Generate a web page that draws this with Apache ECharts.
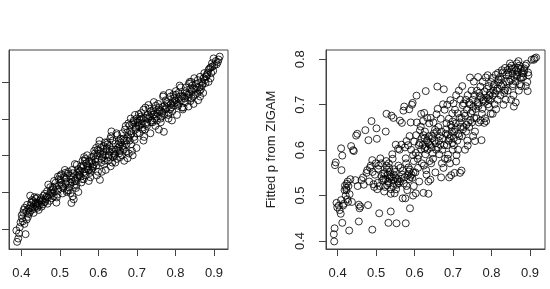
<!DOCTYPE html>
<html>
<head>
<meta charset="utf-8">
<script src="https://cdn.jsdelivr.net/npm/echarts@6/dist/echarts.min.js"></script>
<style>
  html, body { margin: 0; padding: 0; background: #fff; }
  #chart { width: 550px; height: 289px; }
</style>
</head>
<body>
<div id="chart"></div>
<script>
// tick positions
var xTicks = [0.4, 0.5, 0.6, 0.7, 0.8, 0.9];
var leftYTicks = [0.4, 0.5, 0.6, 0.7, 0.8];
var rightYTicks = [0.4, 0.5, 0.6, 0.7, 0.8];

// left panel: [true p, fitted p] (y labels are cut off in the reference)
var leftPoints = [
	[0.389,0.365],[0.392,0.374],[0.387,0.396],[0.396,0.405],[0.394,0.388],[0.398,0.418],
	[0.411,0.386],[0.404,0.421],[0.406,0.452],[0.417,0.433],[0.402,0.429],[0.413,0.447],[0.409,0.458],[0.415,0.466],[0.419,0.441],[0.401,0.438],[0.408,0.414],[0.414,0.426],[0.418,0.455],[0.405,0.444],
	[0.423,0.491],[0.436,0.471],[0.421,0.456],[0.428,0.479],[0.439,0.463],[0.431,0.476],[0.425,0.451],[0.437,0.468],[0.434,0.487],[0.422,0.446],[0.429,0.459],[0.432,0.444],[0.426,0.472],[0.438,0.482],[0.424,0.465],[0.433,0.455],
	[0.447,0.476],[0.441,0.486],[0.453,0.461],[0.444,0.471],[0.458,0.491],[0.450,0.479],[0.456,0.467],[0.442,0.458],[0.459,0.473],[0.445,0.452],[0.452,0.484],[0.448,0.466],[0.455,0.478],[0.443,0.463],
	[0.465,0.488],[0.474,0.477],[0.461,0.496],[0.470,0.521],[0.478,0.506],[0.463,0.481],[0.476,0.499],[0.468,0.469],[0.472,0.492],[0.479,0.484],[0.467,0.503],[0.462,0.474],[0.475,0.514],[0.469,0.486],
	[0.487,0.503],[0.482,0.513],[0.494,0.494],[0.489,0.526],[0.491,0.472],[0.483,0.508],[0.495,0.543],[0.498,0.519],[0.485,0.531],[0.492,0.486],[0.481,0.497],[0.497,0.536],[0.488,0.516],[0.484,0.489],[0.496,0.507],
	[0.508,0.516],[0.502,0.534],[0.515,0.524],[0.504,0.549],[0.519,0.505],[0.511,0.541],[0.506,0.521],[0.517,0.529],[0.513,0.561],[0.501,0.545],[0.518,0.501],[0.509,0.511],[0.514,0.553],[0.503,0.526],[0.516,0.538],[0.507,0.497],
	[0.527,0.526],[0.521,0.551],[0.535,0.541],[0.524,0.513],[0.538,0.531],[0.530,0.471],[0.533,0.489],[0.536,0.481],[0.522,0.556],[0.529,0.536],[0.539,0.577],[0.532,0.561],[0.526,0.546],[0.537,0.519],[0.523,0.506],[0.531,0.528],[0.534,0.552],[0.528,0.498],
	[0.546,0.541],[0.553,0.559],[0.541,0.531],[0.557,0.566],[0.549,0.548],[0.544,0.575],[0.558,0.536],[0.551,0.556],[0.543,0.521],[0.555,0.571],[0.548,0.501],[0.542,0.512],[0.559,0.586],[0.552,0.547],[0.547,0.563],[0.556,0.527],[0.545,0.553],[0.554,0.543],
	[0.567,0.546],[0.574,0.561],[0.561,0.573],[0.578,0.553],[0.565,0.586],[0.572,0.566],[0.563,0.596],[0.579,0.541],[0.569,0.579],[0.576,0.561],[0.562,0.536],[0.571,0.601],[0.575,0.531],[0.566,0.591],[0.573,0.571],[0.564,0.556],[0.577,0.584],[0.568,0.563],
	[0.586,0.571],[0.592,0.591],[0.581,0.561],[0.597,0.601],[0.584,0.581],[0.589,0.613],[0.599,0.556],[0.583,0.596],[0.594,0.621],[0.588,0.576],[0.596,0.546],[0.582,0.586],[0.591,0.606],[0.598,0.616],[0.585,0.566],[0.593,0.583],[0.587,0.598],[0.595,0.573],
	[0.608,0.591],[0.613,0.611],[0.604,0.534],[0.618,0.601],[0.602,0.631],[0.615,0.576],[0.606,0.621],[0.619,0.561],[0.611,0.603],[0.603,0.641],[0.616,0.586],[0.609,0.556],[0.601,0.613],[0.614,0.626],[0.607,0.581],[0.612,0.596],[0.617,0.636],[0.605,0.606],
	[0.627,0.601],[0.621,0.616],[0.636,0.581],[0.624,0.631],[0.631,0.646],[0.638,0.596],[0.622,0.621],[0.634,0.666],[0.629,0.611],[0.625,0.586],[0.637,0.641],[0.632,0.571],[0.623,0.636],[0.639,0.606],[0.628,0.626],[0.635,0.616],[0.626,0.596],[0.633,0.653],
	[0.646,0.616],[0.652,0.631],[0.641,0.601],[0.658,0.646],[0.644,0.581],[0.655,0.626],[0.649,0.656],[0.642,0.611],[0.657,0.596],[0.653,0.641],[0.647,0.661],[0.651,0.621],[0.659,0.636],[0.643,0.603],[0.648,0.591],[0.656,0.613],[0.645,0.633],[0.654,0.606],
	[0.666,0.616],[0.673,0.631],[0.661,0.601],[0.677,0.651],[0.664,0.621],[0.671,0.681],[0.668,0.641],[0.679,0.606],[0.662,0.661],[0.678,0.688],[0.676,0.593],[0.669,0.671],[0.674,0.641],[0.663,0.626],[0.672,0.611],[0.667,0.586],[0.675,0.663],[0.665,0.646],
	[0.686,0.661],[0.691,0.691],[0.681,0.641],[0.697,0.676],[0.684,0.701],[0.693,0.651],[0.688,0.686],[0.699,0.621],[0.682,0.666],[0.695,0.711],[0.689,0.601],[0.698,0.681],[0.685,0.631],[0.692,0.696],[0.683,0.656],[0.696,0.671],[0.687,0.613],[0.694,0.643],[0.681,0.683],[0.699,0.701],
	[0.706,0.681],[0.712,0.701],[0.701,0.661],[0.708,0.697],[0.717,0.641],[0.703,0.691],[0.715,0.671],[0.709,0.706],[0.717,0.725],[0.704,0.681],[0.711,0.716],[0.719,0.651],[0.702,0.691],[0.714,0.676],[0.707,0.661],[0.713,0.686],[0.718,0.703],[0.705,0.713],
	[0.727,0.691],[0.733,0.706],[0.721,0.671],[0.738,0.716],[0.730,0.738],[0.724,0.686],[0.736,0.721],[0.729,0.701],[0.735,0.661],[0.722,0.731],[0.739,0.696],[0.726,0.681],[0.732,0.728],[0.728,0.711],[0.737,0.691],[0.723,0.703],
	[0.746,0.701],[0.753,0.716],[0.741,0.691],[0.758,0.731],[0.744,0.746],[0.751,0.706],[0.759,0.721],[0.748,0.681],[0.755,0.741],[0.742,0.711],[0.757,0.671],[0.749,0.736],[0.745,0.713],[0.752,0.696],[0.756,0.726],[0.743,0.723],
	[0.766,0.716],[0.772,0.736],[0.761,0.701],[0.778,0.746],[0.769,0.765],[0.770,0.665],[0.764,0.721],[0.775,0.751],[0.762,0.691],[0.777,0.731],[0.768,0.761],[0.774,0.726],[0.763,0.706],[0.779,0.741],[0.771,0.711],[0.767,0.733],
	[0.786,0.726],[0.793,0.746],[0.781,0.711],[0.797,0.756],[0.784,0.771],[0.789,0.731],[0.799,0.751],[0.782,0.701],[0.795,0.766],[0.788,0.741],[0.791,0.696],[0.783,0.716],[0.796,0.736],[0.787,0.761],[0.792,0.721],[0.798,0.743],
	[0.806,0.741],[0.804,0.711],[0.812,0.761],[0.801,0.776],[0.817,0.731],[0.809,0.756],[0.814,0.786],[0.803,0.746],[0.819,0.726],[0.808,0.771],[0.815,0.751],[0.811,0.791],[0.802,0.766],[0.818,0.763],[0.807,0.736],
	[0.826,0.746],[0.832,0.766],[0.821,0.731],[0.838,0.781],[0.824,0.756],[0.835,0.796],[0.834,0.734],[0.829,0.771],[0.837,0.801],[0.822,0.761],[0.839,0.749],[0.827,0.786],[0.833,0.758],[0.825,0.776],[0.836,0.768],
	[0.846,0.761],[0.852,0.781],[0.841,0.801],[0.857,0.771],[0.844,0.791],[0.859,0.751],[0.849,0.811],[0.843,0.776],[0.854,0.796],[0.851,0.766],[0.847,0.741],[0.856,0.786],[0.842,0.756],[0.858,0.806],[0.848,0.783],
	[0.866,0.781],[0.864,0.761],[0.864,0.815],[0.871,0.796],[0.876,0.806],[0.862,0.786],[0.873,0.811],[0.875,0.825],[0.869,0.791],[0.879,0.816],[0.867,0.801],[0.872,0.771],[0.878,0.798],[0.863,0.776],
	[0.886,0.801],[0.882,0.821],[0.886,0.834],[0.891,0.811],[0.884,0.826],[0.892,0.841],[0.893,0.825],[0.895,0.852],[0.898,0.831],[0.881,0.816],[0.889,0.838],[0.896,0.843],
	[0.899,0.865],[0.901,0.846],[0.905,0.858],[0.912,0.862],[0.915,0.870],[0.910,0.855],[0.907,0.849]
];

// right panel: [true p, fitted p from ZIGAM]
var zigamPoints = [
	[0.391,0.399],[0.390,0.415],[0.392,0.428],[0.393,0.567],[0.395,0.573],[0.397,0.484],[0.399,0.474],
	[0.409,0.604],[0.412,0.588],[0.410,0.556],[0.412,0.440],[0.409,0.490],[0.405,0.468],[0.408,0.460],[0.414,0.478],[0.416,0.482],[0.418,0.512],[0.419,0.522],[0.403,0.478],
	[0.421,0.500],[0.423,0.512],[0.424,0.526],[0.426,0.531],[0.422,0.517],[0.428,0.521],[0.425,0.492],[0.427,0.486],[0.430,0.423],[0.433,0.536],[0.435,0.609],[0.440,0.600],[0.442,0.598],[0.431,0.503],[0.437,0.486],
	[0.448,0.632],[0.451,0.636],[0.455,0.480],[0.457,0.472],[0.455,0.443],[0.446,0.534],[0.452,0.521],[0.459,0.476],
	[0.462,0.534],[0.472,0.644],[0.468,0.524],[0.475,0.550],[0.466,0.540],[0.480,0.622],[0.479,0.479],[0.477,0.556],
	[0.488,0.664],[0.490,0.578],[0.490,0.425],[0.484,0.561],[0.486,0.566],[0.493,0.525],[0.495,0.519],[0.482,0.531],[0.497,0.546],[0.499,0.571],[0.491,0.552],
	[0.501,0.648],[0.502,0.625],[0.508,0.461],[0.513,0.571],[0.505,0.559],[0.518,0.549],[0.509,0.521],[0.503,0.514],[0.516,0.533],[0.511,0.582],[0.507,0.566],[0.519,0.537],[0.514,0.543],[0.504,0.528],
	[0.525,0.641],[0.527,0.680],[0.532,0.440],[0.538,0.465],[0.534,0.561],[0.522,0.549],[0.537,0.542],[0.524,0.536],[0.529,0.523],[0.539,0.514],[0.521,0.509],[0.533,0.571],[0.526,0.576],[0.530,0.546],[0.536,0.552],[0.523,0.519],[0.531,0.531],[0.538,0.504],[0.528,0.558],[0.535,0.538],[0.527,0.566],[0.533,0.527],
	[0.540,0.676],[0.545,0.671],[0.553,0.439],[0.549,0.552],[0.541,0.541],[0.556,0.531],[0.544,0.521],[0.552,0.514],[0.558,0.566],[0.543,0.581],[0.551,0.612],[0.557,0.603],[0.546,0.546],[0.555,0.536],[0.548,0.505],[0.542,0.591],[0.559,0.527],[0.547,0.558],[0.554,0.524],[0.550,0.540],[0.545,0.533],
	[0.571,0.687],[0.573,0.696],[0.569,0.494],[0.577,0.439],[0.566,0.612],[0.575,0.606],[0.561,0.601],[0.578,0.571],[0.563,0.561],[0.568,0.546],[0.574,0.540],[0.562,0.531],[0.579,0.521],[0.567,0.660],[0.562,0.665],[0.579,0.620],[0.576,0.494],[0.570,0.555],[0.565,0.537],[0.572,0.527],[0.577,0.582],
	[0.595,0.704],[0.593,0.700],[0.588,0.472],[0.596,0.500],[0.589,0.541],[0.582,0.545],[0.597,0.551],[0.586,0.536],[0.584,0.562],[0.598,0.576],[0.591,0.601],[0.583,0.611],[0.599,0.619],[0.587,0.631],[0.590,0.661],[0.581,0.512],[0.598,0.521],[0.586,0.690],[0.592,0.546],[0.585,0.553],[0.594,0.539],[0.588,0.557],[0.596,0.589],
	[0.605,0.720],[0.614,0.644],[0.611,0.611],[0.617,0.602],[0.603,0.594],[0.608,0.581],[0.619,0.571],[0.602,0.551],[0.612,0.531],[0.616,0.652],[0.606,0.661],[0.603,0.505],[0.617,0.680],[0.609,0.561],[0.613,0.616],[0.618,0.626],[0.604,0.633],[0.610,0.588],
	[0.629,0.730],[0.623,0.506],[0.636,0.504],[0.632,0.621],[0.626,0.626],[0.637,0.631],[0.621,0.611],[0.634,0.601],[0.628,0.591],[0.639,0.576],[0.624,0.566],[0.631,0.546],[0.627,0.641],[0.638,0.659],[0.622,0.664],[0.633,0.671],[0.625,0.682],[0.636,0.531],[0.630,0.556],[0.635,0.617],[0.629,0.607],[0.623,0.633],[0.638,0.613],[0.626,0.603],
	[0.652,0.621],[0.645,0.631],[0.658,0.641],[0.641,0.611],[0.656,0.601],[0.648,0.581],[0.643,0.571],[0.654,0.551],[0.649,0.661],[0.642,0.671],[0.657,0.679],[0.660,0.691],[0.659,0.740],[0.641,0.535],[0.653,0.645],[0.646,0.626],[0.655,0.615],[0.644,0.606],[0.650,0.637],[0.647,0.593],
	[0.676,0.734],[0.669,0.540],[0.672,0.601],[0.677,0.611],[0.663,0.621],[0.666,0.631],[0.679,0.581],[0.671,0.571],[0.662,0.651],[0.668,0.669],[0.674,0.701],[0.678,0.689],[0.664,0.591],[0.675,0.561],[0.670,0.641],[0.667,0.612],[0.673,0.626],[0.661,0.606],
	[0.690,0.540],[0.695,0.545],[0.688,0.621],[0.694,0.631],[0.681,0.636],[0.697,0.641],[0.684,0.611],[0.699,0.601],[0.686,0.581],[0.692,0.571],[0.696,0.651],[0.683,0.659],[0.689,0.669],[0.698,0.681],[0.685,0.700],[0.701,0.703],[0.693,0.710],[0.687,0.590],[0.691,0.626],[0.682,0.646],[0.698,0.616],[0.694,0.656],[0.686,0.634],[0.699,0.663],
	[0.704,0.550],[0.718,0.550],[0.722,0.555],[0.711,0.621],[0.716,0.631],[0.703,0.641],[0.719,0.651],[0.707,0.659],[0.702,0.611],[0.713,0.601],[0.709,0.589],[0.717,0.671],[0.712,0.681],[0.705,0.689],[0.719,0.711],[0.708,0.721],[0.715,0.731],[0.708,0.575],[0.714,0.636],[0.706,0.646],[0.718,0.661],[0.702,0.626],
	[0.731,0.601],[0.737,0.621],[0.723,0.631],[0.734,0.641],[0.727,0.651],[0.739,0.661],[0.722,0.671],[0.729,0.681],[0.736,0.689],[0.725,0.699],[0.733,0.711],[0.738,0.721],[0.724,0.741],[0.738,0.610],[0.728,0.703],[0.735,0.656],[0.726,0.646],[0.731,0.676],
	[0.744,0.760],[0.752,0.631],[0.757,0.641],[0.742,0.651],[0.749,0.661],[0.755,0.671],[0.746,0.681],[0.759,0.691],[0.743,0.701],[0.751,0.711],[0.756,0.721],[0.748,0.731],[0.754,0.751],[0.757,0.620],[0.742,0.705],[0.750,0.686],[0.745,0.666],[0.753,0.696],
	[0.774,0.622],[0.767,0.661],[0.772,0.665],[0.761,0.670],[0.776,0.691],[0.764,0.701],[0.779,0.709],[0.769,0.719],[0.762,0.731],[0.771,0.740],[0.777,0.751],[0.765,0.761],[0.775,0.680],[0.763,0.705],[0.778,0.712],[0.768,0.726],[0.773,0.716],[0.766,0.697],
	[0.781,0.660],[0.786,0.664],[0.783,0.670],[0.791,0.701],[0.797,0.710],[0.788,0.716],[0.795,0.721],[0.782,0.729],[0.793,0.741],[0.799,0.750],[0.785,0.760],[0.790,0.765],[0.794,0.695],[0.798,0.680],[0.788,0.735],[0.784,0.707],[0.796,0.726],[0.792,0.712],
	[0.812,0.690],[0.808,0.701],[0.816,0.711],[0.803,0.720],[0.814,0.731],[0.806,0.741],[0.819,0.749],[0.802,0.759],[0.811,0.766],[0.817,0.770],[0.803,0.680],[0.809,0.725],[0.807,0.745],[0.815,0.736],[0.818,0.756],[0.805,0.731],
	[0.831,0.700],[0.837,0.711],[0.823,0.721],[0.834,0.731],[0.826,0.741],[0.838,0.751],[0.822,0.761],[0.829,0.771],[0.835,0.781],[0.830,0.745],[0.836,0.735],[0.825,0.755],[0.839,0.766],[0.827,0.776],[0.833,0.726],
	[0.858,0.696],[0.851,0.711],[0.857,0.721],[0.842,0.731],[0.855,0.741],[0.846,0.751],[0.859,0.761],[0.843,0.771],[0.853,0.779],[0.848,0.791],[0.850,0.755],[0.845,0.765],[0.856,0.745],[0.852,0.786],[0.841,0.776],[0.854,0.769],[0.847,0.781],
	[0.863,0.705],[0.871,0.731],[0.877,0.741],[0.862,0.751],[0.874,0.759],[0.866,0.766],[0.879,0.770],[0.864,0.776],[0.869,0.781],[0.872,0.786],[0.866,0.791],[0.870,0.796],[0.874,0.745],[0.868,0.772],[0.878,0.760],[0.861,0.781],[0.876,0.779],[0.867,0.763],
	[0.889,0.741],[0.893,0.750],[0.882,0.761],[0.895,0.771],[0.885,0.780],[0.891,0.790],[0.894,0.730],[0.896,0.765],[0.885,0.775],[0.888,0.786],[0.883,0.769],
	[0.910,0.799],[0.904,0.799],[0.916,0.804],[0.912,0.802]
];

var myChart = echarts.init(document.getElementById('chart'));

var lineColor = '#444';
var textColor = '#222';
var font = 'Liberation Sans, Arial, sans-serif';

function fmt(v) {
	return v.toFixed(1);
}

function xAxisFor(idx, min, max) {
	return {
		type: 'value',
		gridIndex: idx,
		min: min,
		max: max,
		axisLine: { show: true, lineStyle: { color: lineColor, width: 1 } },
		axisTick: { show: true, length: 7, customValues: xTicks, lineStyle: { color: lineColor } },
		axisLabel: {
			customValues: xTicks,
			formatter: fmt,
			margin: 18,
			fontSize: 13,
			fontFamily: font,
			color: textColor
		},
		splitLine: { show: false }
	};
}

var pointStyle = {
	color: 'rgba(0,0,0,0)',
	borderColor: '#000',
	borderWidth: 1
};

var option = {
	backgroundColor: '#fff',
	animation: false,
	grid: [
		{ left: 9, top: 50, width: 219, height: 199, show: true, borderColor: lineColor, borderWidth: 1, backgroundColor: 'transparent' },
		{ left: 326, top: 50, width: 219, height: 199, show: true, borderColor: lineColor, borderWidth: 1, backgroundColor: 'transparent' }
	],
	xAxis: [
		xAxisFor(0, 0.368, 0.9365),
		xAxisFor(1, 0.3697, 0.939)
	],
	yAxis: [{
			type: 'value',
			gridIndex: 0,
			min: 0.3455,
			max: 0.888,
			axisLine: { show: true, lineStyle: { color: lineColor } },
			axisTick: { show: true, length: 7, customValues: leftYTicks, lineStyle: { color: lineColor } },
			axisLabel: { show: false },
			splitLine: { show: false }
		}, {
			type: 'value',
			gridIndex: 1,
			min: 0.3824,
			max: 0.8205,
			name: 'Fitted p from ZIGAM',
			nameLocation: 'middle',
			nameGap: 48,
			nameTextStyle: { fontSize: 13, fontFamily: font, color: textColor },
			axisLine: { show: true, lineStyle: { color: lineColor } },
			axisTick: { show: true, length: 7, customValues: rightYTicks, lineStyle: { color: lineColor } },
			axisLabel: {
				customValues: rightYTicks,
				formatter: fmt,
				rotate: 90,
				margin: 19,
				fontSize: 13,
				fontFamily: font,
				color: textColor
			},
			splitLine: { show: false }
		}
	],
	series: [{
			type: 'scatter',
			xAxisIndex: 0,
			yAxisIndex: 0,
			symbol: 'circle',
			symbolSize: 7,
			data: leftPoints,
			itemStyle: pointStyle
		}, {
			type: 'scatter',
			xAxisIndex: 1,
			yAxisIndex: 1,
			symbol: 'circle',
			symbolSize: 7,
			data: zigamPoints,
			itemStyle: pointStyle
		}
	]
};

myChart.setOption(option);
</script>
</body>
</html>
